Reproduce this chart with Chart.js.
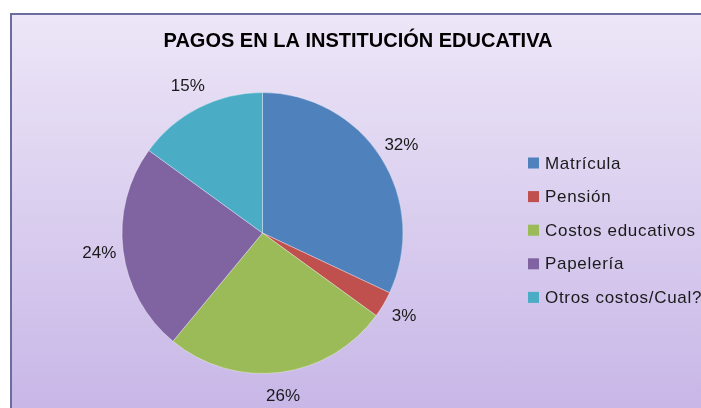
<!DOCTYPE html>
<html>
<head>
<meta charset="utf-8">
<script src="https://cdn.jsdelivr.net/npm/chart.js@4"></script>
<style>
  html, body { margin: 0; padding: 0; background: #ffffff; overflow: hidden; }
  #wrap { position: relative; width: 701px; height: 408px; overflow: hidden; }
  #frame {
    position: absolute; left: 10px; top: 13px; width: 700px; height: 400px;
    border-left: 2px solid #6c6c9f;
    border-top: 2px solid #6c6c9f;
    background: linear-gradient(to bottom, #ede6f7 0%, #c7b6e7 100%);
  }
  #myChart { position: absolute; left: 0; top: 0; }
</style>
</head>
<body>
<div id="wrap">
  <div id="frame"></div>
  <canvas id="myChart" width="701" height="408"></canvas>
</div>
<script>
// datos del gráfico
const chartTitle = 'PAGOS EN LA INSTITUCIÓN EDUCATIVA';
const labels = ['Matrícula', 'Pensión', 'Costos educativos', 'Papelería', 'Otros costos/Cual?'];
const values = [32, 3, 26, 24, 15];
const colors = ['#4f81bd', '#c0504d', '#9bbb59', '#8064a2', '#4bacc6'];

// titulo, porcentajes y leyenda dibujados a mano
const extrasPlugin = {
  id: 'extras',
  afterDraw(chart) {
    const ctx = chart.ctx;
    ctx.save();

    // titulo
    ctx.fillStyle = '#000000';
    ctx.font = 'bold 20px "Liberation Sans", Arial, sans-serif';
    ctx.textAlign = 'center';
    ctx.textBaseline = 'middle';
    ctx.fillText(chartTitle, 358, 41);

    // porcentajes fuera de cada sector
    const total = values.reduce((a, b) => a + b, 0);
    const meta = chart.getDatasetMeta(0);
    ctx.font = '17px "Liberation Sans", Arial, sans-serif';
    meta.data.forEach((arc, i) => {
      const mid = (arc.startAngle + arc.endAngle) / 2;
      const r = arc.outerRadius + 24;
      const x = arc.x + Math.cos(mid) * r;
      const y = arc.y + Math.sin(mid) * r;
      ctx.fillStyle = '#1a1a1a';
      ctx.fillText(Math.round(values[i] / total * 100) + '%', x, y);
    });

    // leyenda
    ctx.textAlign = 'left';
    ctx.font = '17px "Liberation Sans", Arial, sans-serif';
    if ('letterSpacing' in ctx) ctx.letterSpacing = '0.7px';
    labels.forEach((lab, i) => {
      const y = 163 + i * 33.6;
      ctx.fillStyle = colors[i];
      ctx.fillRect(528, y - 5.5, 11, 11);
      ctx.fillStyle = '#1a1a1a';
      ctx.fillText(lab, 545, y + 1);
    });

    ctx.restore();
  }
};

const chart = new Chart(document.getElementById('myChart'), {
  type: 'pie',
  data: {
    labels,
    datasets: [{
      data: values,
      backgroundColor: colors,
      borderColor: 'rgba(255,255,255,0.35)',
      borderWidth: 1
    }]
  },
  options: {
    responsive: false,
    animation: false,
    layout: {
      padding: { left: 121, right: 297, top: 92, bottom: 34 }
    },
    plugins: {
      legend: { display: false },
      title: { display: false },
      tooltip: { enabled: false }
    }
  },
  plugins: [extrasPlugin]
});
</script>
</body>
</html>
